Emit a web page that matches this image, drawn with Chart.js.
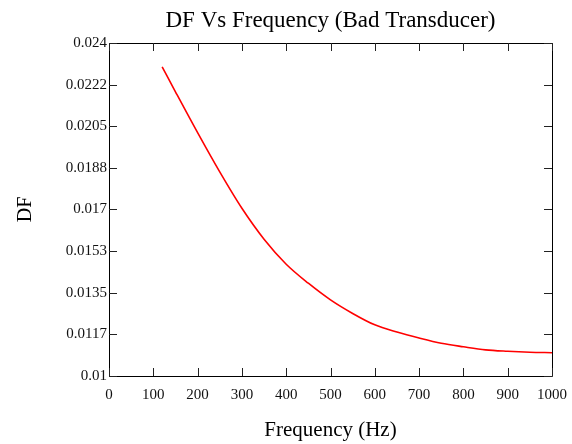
<!DOCTYPE html>
<html>
<head>
<meta charset="utf-8">
<script src="https://cdn.jsdelivr.net/npm/chart.js@4/dist/chart.umd.min.js"></script>
<style>
  html, body { margin: 0; padding: 0; background: #ffffff; }
  #wrap { width: 572px; height: 444px; position: relative; }
</style>
</head>
<body>
<div id="wrap"><canvas id="c" width="572" height="444"></canvas></div>
<script>
// ---- data ----
const chartTitle = 'DF Vs Frequency (Bad Transducer)';
const xAxisTitle = 'Frequency (Hz)';
const yAxisTitle = 'DF';

const frequencies = [120, 150, 200, 250, 300, 350, 400, 450, 500, 550, 600, 650, 700, 750, 800, 850, 900, 950, 1000];
const dfValues    = [0.02300, 0.02195, 0.02023, 0.01858, 0.01705, 0.01575, 0.01470, 0.01390, 0.01320, 0.01263, 0.01215, 0.01185, 0.01160, 0.01138, 0.01123, 0.01110, 0.01104, 0.01100, 0.01098];

const xTickValues = [0, 100, 200, 300, 400, 500, 600, 700, 800, 900, 1000];
const yTickValues = [0.01, 0.01175, 0.0135, 0.01525, 0.017, 0.01875, 0.0205, 0.02225, 0.024];
const yTickLabels = ['0.01', '0.0117', '0.0135', '0.0153', '0.017', '0.0188', '0.0205', '0.0222', '0.024'];

const points = frequencies.map((f, i) => ({ x: f, y: dfValues[i] }));

const serif = "'Liberation Serif', 'Times New Roman', serif";

// frame + inward tick marks on all four sides
const framePlugin = {
  id: 'frame',
  afterDraw(chart) {
    const { ctx, chartArea: a, scales } = chart;
    const L = 8;
    ctx.save();
    ctx.strokeStyle = '#000';
    ctx.lineWidth = 1;
    ctx.beginPath();
    ctx.rect(Math.round(a.left) + 0.5, Math.round(a.top) + 0.5, Math.round(a.right - a.left), Math.round(a.bottom - a.top));
    ctx.stroke();
    ctx.strokeStyle = '#222';
    ctx.beginPath();
    scales.x.ticks.forEach(t => {
      const px = Math.round(scales.x.getPixelForValue(t.value)) + 0.5;
      ctx.moveTo(px, a.bottom); ctx.lineTo(px, a.bottom - L);
      ctx.moveTo(px, a.top); ctx.lineTo(px, a.top + L);
    });
    scales.y.ticks.forEach(t => {
      const py = Math.round(scales.y.getPixelForValue(t.value)) + 0.5;
      ctx.moveTo(a.left, py); ctx.lineTo(a.left + L, py);
      ctx.moveTo(a.right, py); ctx.lineTo(a.right - L, py);
    });
    ctx.stroke();
    ctx.restore();
  }
};

new Chart(document.getElementById('c'), {
  type: 'line',
  data: {
    datasets: [{
      label: 'DF',
      data: points,
      borderColor: '#ff0000',
      borderWidth: 1.6,
      pointRadius: 0,
      fill: false,
      cubicInterpolationMode: 'monotone'
    }]
  },
  options: {
    responsive: false,
    animation: false,
    events: [],
    layout: { padding: { left: 0, right: 20, top: 0, bottom: 0 } },
    plugins: {
      legend: { display: false },
      tooltip: { enabled: false },
      title: {
        display: true,
        text: chartTitle,
        fullSize: false,
        color: '#000',
        font: { family: serif, size: 23, weight: 'normal' },
        padding: { top: 7, bottom: 8.4 }
      }
    },
    scales: {
      x: {
        type: 'linear',
        min: 0,
        max: 1000,
        afterFit: s => { s.height = 68; s.paddingLeft = 0; s.paddingRight = 0; },
        afterBuildTicks: s => { s.ticks = xTickValues.map(v => ({ value: v })); },
        grid: { display: false, drawTicks: false },
        border: { display: false },
        ticks: {
          color: '#111',
          padding: 10,
          maxRotation: 0,
          autoSkip: false,
          font: { family: serif, size: 15 },
          callback: v => String(v)
        },
        title: {
          display: true,
          text: xAxisTitle,
          color: '#000',
          font: { family: serif, size: 21, weight: 'normal' },
          padding: { top: 0, bottom: 1 }
        }
      },
      y: {
        type: 'linear',
        min: 0.01,
        max: 0.024,
        afterFit: s => { s.width = 109; s.paddingTop = 0; s.paddingBottom = 0; },
        afterBuildTicks: s => { s.ticks = yTickValues.map(v => ({ value: v })); },
        grid: { display: false, drawTicks: false },
        border: { display: false },
        ticks: {
          color: '#111',
          padding: 2,
          autoSkip: false,
          font: { family: serif, size: 15 },
          callback: (v, i) => yTickLabels[i]
        },
        title: {
          display: true,
          text: yAxisTitle,
          color: '#000',
          font: { family: serif, size: 20, weight: 'normal' },
          padding: { top: 14, bottom: 0 }
        }
      }
    }
  },
  plugins: [framePlugin]
});
</script>
</body>
</html>
